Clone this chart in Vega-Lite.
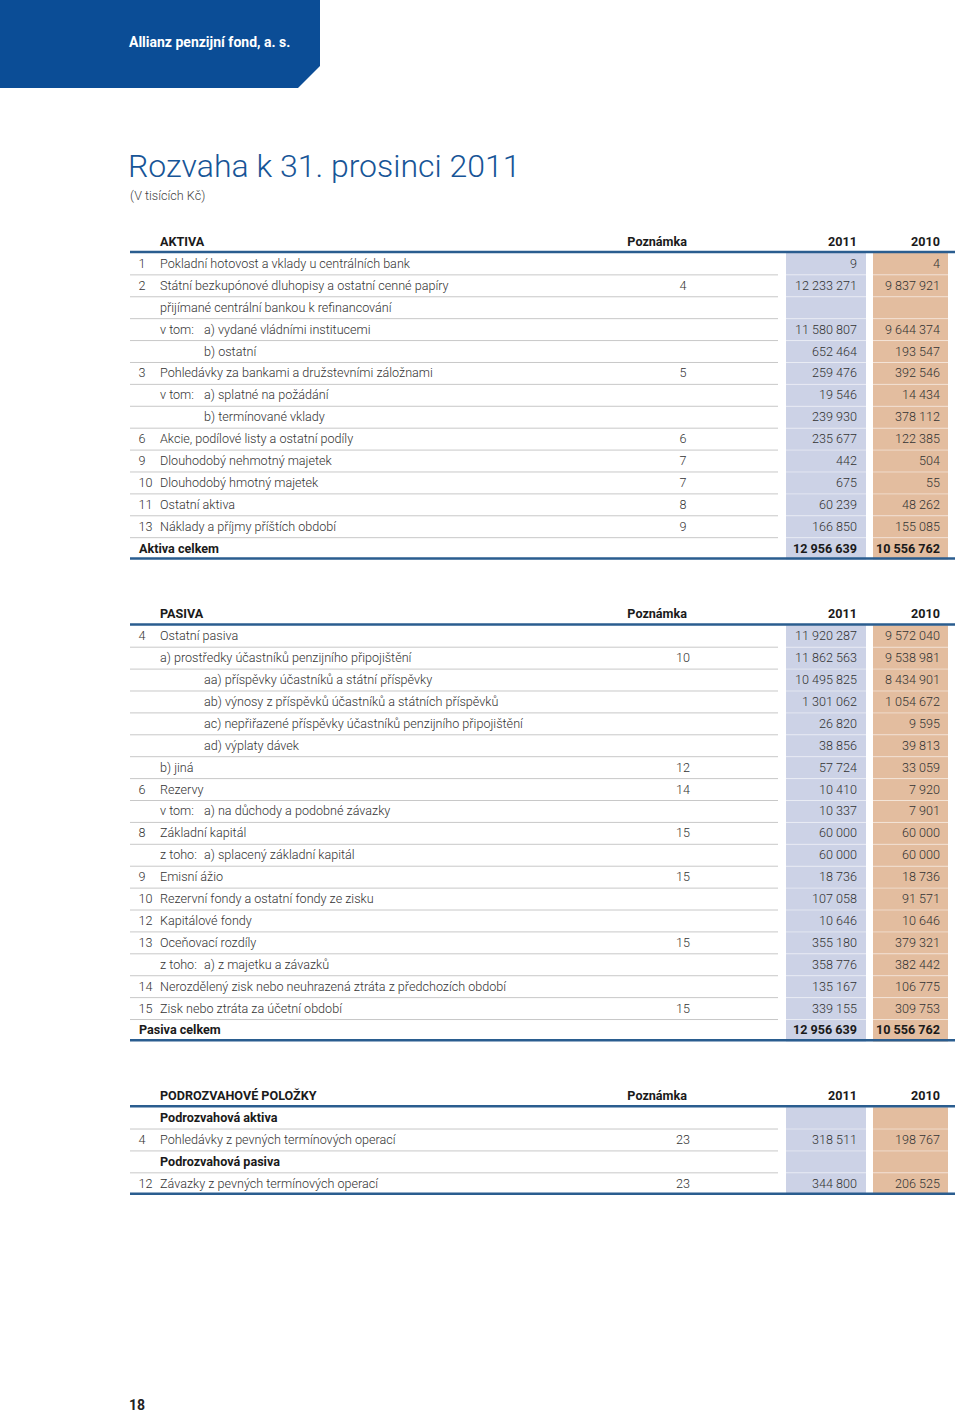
{
 "$schema": "https://vega.github.io/schema/vega-lite/v6.json",
 "width": 960, "height": 1412, "padding": 0, "autosize": {"type": "none"},
 "background": "white",
 "config": {
  "view": {"stroke": null},
  "locale": {"number": {"decimal": ",", "thousands": " ", "grouping": [3], "currency": ["", " Kč"]}},
  "text": {"font": "Roboto, sans-serif", "baseline": "middle", "fontSize": 12.6}
 },
 "datasets": {
  "rows": [
   {"r": 0, "sec": "A", "kind": "head", "label": "AKTIVA", "note": "Poznámka", "h11": "2011", "h10": "2010"},
   {"r": 1, "sec": "A", "kind": "item", "lvl": 0, "num": "1", "label": "Pokladní hotovost a vklady u centrálních bank", "v11": 9, "v10": 4},
   {"r": 2, "sec": "A", "kind": "item", "lvl": 0, "num": "2", "label": "Státní bezkupónové dluhopisy a ostatní cenné papíry", "note": "4", "v11": 12233271, "v10": 9837921},
   {"r": 3, "sec": "A", "kind": "item", "lvl": 0, "label": "přijímané centrální bankou k refinancování"},
   {"r": 4, "sec": "A", "kind": "item", "lvl": 1, "pre": "v tom:", "label": "a) vydané vládními institucemi", "v11": 11580807, "v10": 9644374},
   {"r": 5, "sec": "A", "kind": "item", "lvl": 1, "label": "b) ostatní", "v11": 652464, "v10": 193547},
   {"r": 6, "sec": "A", "kind": "item", "lvl": 0, "num": "3", "label": "Pohledávky za bankami a družstevními záložnami", "note": "5", "v11": 259476, "v10": 392546},
   {"r": 7, "sec": "A", "kind": "item", "lvl": 1, "pre": "v tom:", "label": "a) splatné na požádání", "v11": 19546, "v10": 14434},
   {"r": 8, "sec": "A", "kind": "item", "lvl": 1, "label": "b) termínované vklady", "v11": 239930, "v10": 378112},
   {"r": 9, "sec": "A", "kind": "item", "lvl": 0, "num": "6", "label": "Akcie, podílové listy a ostatní podíly", "note": "6", "v11": 235677, "v10": 122385},
   {"r": 10, "sec": "A", "kind": "item", "lvl": 0, "num": "9", "label": "Dlouhodobý nehmotný majetek", "note": "7", "v11": 442, "v10": 504},
   {"r": 11, "sec": "A", "kind": "item", "lvl": 0, "num": "10", "label": "Dlouhodobý hmotný majetek", "note": "7", "v11": 675, "v10": 55},
   {"r": 12, "sec": "A", "kind": "item", "lvl": 0, "num": "11", "label": "Ostatní aktiva", "note": "8", "v11": 60239, "v10": 48262},
   {"r": 13, "sec": "A", "kind": "item", "lvl": 0, "num": "13", "label": "Náklady a příjmy příštích období", "note": "9", "v11": 166850, "v10": 155085},
   {"r": 14, "sec": "A", "kind": "total", "label": "Aktiva celkem", "v11": 12956639, "v10": 10556762},
   {"r": 17, "sec": "P", "kind": "head", "label": "PASIVA", "note": "Poznámka", "h11": "2011", "h10": "2010"},
   {"r": 18, "sec": "P", "kind": "item", "lvl": 0, "num": "4", "label": "Ostatní pasiva", "v11": 11920287, "v10": 9572040},
   {"r": 19, "sec": "P", "kind": "item", "lvl": 0, "label": "a) prostředky účastníků penzijního připojištění", "note": "10", "v11": 11862563, "v10": 9538981},
   {"r": 20, "sec": "P", "kind": "item", "lvl": 1, "label": "aa) příspěvky účastníků a státní příspěvky", "v11": 10495825, "v10": 8434901},
   {"r": 21, "sec": "P", "kind": "item", "lvl": 1, "label": "ab) výnosy z příspěvků účastníků a státních příspěvků", "v11": 1301062, "v10": 1054672},
   {"r": 22, "sec": "P", "kind": "item", "lvl": 1, "label": "ac) nepřiřazené příspěvky účastníků penzijního připojištění", "v11": 26820, "v10": 9595},
   {"r": 23, "sec": "P", "kind": "item", "lvl": 1, "label": "ad) výplaty dávek", "v11": 38856, "v10": 39813},
   {"r": 24, "sec": "P", "kind": "item", "lvl": 0, "label": "b) jiná", "note": "12", "v11": 57724, "v10": 33059},
   {"r": 25, "sec": "P", "kind": "item", "lvl": 0, "num": "6", "label": "Rezervy", "note": "14", "v11": 10410, "v10": 7920},
   {"r": 26, "sec": "P", "kind": "item", "lvl": 1, "pre": "v tom:", "label": "a) na důchody a podobné závazky", "v11": 10337, "v10": 7901},
   {"r": 27, "sec": "P", "kind": "item", "lvl": 0, "num": "8", "label": "Základní kapitál", "note": "15", "v11": 60000, "v10": 60000},
   {"r": 28, "sec": "P", "kind": "item", "lvl": 1, "pre": "z toho:", "label": "a) splacený základní kapitál", "v11": 60000, "v10": 60000},
   {"r": 29, "sec": "P", "kind": "item", "lvl": 0, "num": "9", "label": "Emisní ážio", "note": "15", "v11": 18736, "v10": 18736},
   {"r": 30, "sec": "P", "kind": "item", "lvl": 0, "num": "10", "label": "Rezervní fondy a ostatní fondy ze zisku", "v11": 107058, "v10": 91571},
   {"r": 31, "sec": "P", "kind": "item", "lvl": 0, "num": "12", "label": "Kapitálové fondy", "v11": 10646, "v10": 10646},
   {"r": 32, "sec": "P", "kind": "item", "lvl": 0, "num": "13", "label": "Oceňovací rozdíly", "note": "15", "v11": 355180, "v10": 379321},
   {"r": 33, "sec": "P", "kind": "item", "lvl": 1, "pre": "z toho:", "label": "a) z majetku a závazků", "v11": 358776, "v10": 382442},
   {"r": 34, "sec": "P", "kind": "item", "lvl": 0, "num": "14", "label": "Nerozdělený zisk nebo neuhrazená ztráta z předchozích období", "v11": 135167, "v10": 106775},
   {"r": 35, "sec": "P", "kind": "item", "lvl": 0, "num": "15", "label": "Zisk nebo ztráta za účetní období", "note": "15", "v11": 339155, "v10": 309753},
   {"r": 36, "sec": "P", "kind": "total", "label": "Pasiva celkem", "v11": 12956639, "v10": 10556762},
   {"r": 39, "sec": "O", "kind": "head", "label": "PODROZVAHOVÉ POLOŽKY", "note": "Poznámka", "h11": "2011", "h10": "2010"},
   {"r": 40, "sec": "O", "kind": "sub", "label": "Podrozvahová aktiva"},
   {"r": 41, "sec": "O", "kind": "item", "lvl": 0, "num": "4", "label": "Pohledávky z pevných termínových operací", "note": "23", "v11": 318511, "v10": 198767},
   {"r": 42, "sec": "O", "kind": "sub", "label": "Podrozvahová pasiva"},
   {"r": 43, "sec": "O", "kind": "item", "lvl": 0, "num": "12", "label": "Závazky z pevných termínových operací", "note": "23", "v11": 344800, "v10": 206525}
  ]
 },
 "data": {"name": "rows"},
 "layer": [
  {"data": {"values": [{}]}, "mark": {"type": "rect", "color": "#0b4d96"},
   "encoding": {"x": {"datum": 0, "type": "quantitative", "scale": {"domain": [0, 960], "nice": false, "zero": false}, "axis": null}, "x2": {"datum": 320},
    "y": {"datum": -11.05, "type": "quantitative", "scale": {"domain": [-11.05, 53.42], "reverse": true, "nice": false, "zero": false}, "axis": null}, "y2": {"datum": -7.03}}},
  {"data": {"values": [{}]}, "mark": {"type": "point", "shape": "M 1 -1 L 1 1 L -1 1 Z", "filled": true, "color": "white", "opacity": 1, "size": 576, "strokeWidth": 0},
   "encoding": {"x": {"datum": 309.5, "type": "quantitative", "scale": {"domain": [0, 960], "nice": false, "zero": false}, "axis": null},
    "y": {"datum": -7.56, "type": "quantitative", "scale": {"domain": [-11.05, 53.42], "reverse": true, "nice": false, "zero": false}, "axis": null}}},
  {"data": {"values": [{}]}, "mark": {"type": "text", "text": "Allianz penzijní fond, a. s.", "align": "left", "fontWeight": "bold", "fontSize": 14, "color": "white"},
   "encoding": {"x": {"datum": 129, "type": "quantitative", "scale": {"domain": [0, 960], "nice": false, "zero": false}, "axis": null},
    "y": {"datum": -9.09, "type": "quantitative", "scale": {"domain": [-11.05, 53.42], "reverse": true, "nice": false, "zero": false}, "axis": null}}},
  {"data": {"values": [{}]}, "mark": {"type": "text", "text": "Rozvaha k 31. prosinci 2011", "align": "left", "fontSize": 32, "fontWeight": 300, "color": "#175597"},
   "encoding": {"x": {"datum": 128, "type": "quantitative", "scale": {"domain": [0, 960], "nice": false, "zero": false}, "axis": null},
    "y": {"datum": -3.43, "type": "quantitative", "scale": {"domain": [-11.05, 53.42], "reverse": true, "nice": false, "zero": false}, "axis": null}}},
  {"data": {"values": [{}]}, "mark": {"type": "text", "text": "(V tisících Kč)", "align": "left", "fontSize": 12.6, "fontWeight": 300, "color": "#444444"},
   "encoding": {"x": {"datum": 130, "type": "quantitative", "scale": {"domain": [0, 960], "nice": false, "zero": false}, "axis": null},
    "y": {"datum": -2.1, "type": "quantitative", "scale": {"domain": [-11.05, 53.42], "reverse": true, "nice": false, "zero": false}, "axis": null}}},
  {"data": {"values": [{}]}, "mark": {"type": "text", "text": "18", "align": "left", "fontWeight": "bold", "fontSize": 14, "color": "#222222"},
   "encoding": {"x": {"datum": 129, "type": "quantitative", "scale": {"domain": [0, 960], "nice": false, "zero": false}, "axis": null},
    "y": {"datum": 53.15, "type": "quantitative", "scale": {"domain": [-11.05, 53.42], "reverse": true, "nice": false, "zero": false}, "axis": null}}},
  {"transform": [{"filter": "datum.kind != 'head'"}, {"calculate": "datum.r - 0.5", "as": "t"}, {"calculate": "datum.r + 0.5", "as": "b"}],
   "mark": {"type": "rect", "color": "#ccd2e6"},
   "encoding": {"x": {"datum": 786, "type": "quantitative", "scale": {"domain": [0, 960], "nice": false, "zero": false}, "axis": null}, "x2": {"datum": 866},
    "y": {"field": "t", "type": "quantitative", "scale": {"domain": [-11.05, 53.42], "reverse": true, "nice": false, "zero": false}, "axis": null}, "y2": {"field": "b"}}},
  {"transform": [{"filter": "datum.kind != 'head'"}, {"calculate": "datum.r - 0.5", "as": "t"}, {"calculate": "datum.r + 0.5", "as": "b"}],
   "mark": {"type": "rect", "color": "#e3bd9f"},
   "encoding": {"x": {"datum": 873, "type": "quantitative", "scale": {"domain": [0, 960], "nice": false, "zero": false}, "axis": null}, "x2": {"datum": 948},
    "y": {"field": "t", "type": "quantitative", "scale": {"domain": [-11.05, 53.42], "reverse": true, "nice": false, "zero": false}, "axis": null}, "y2": {"field": "b"}}},
  {"transform": [{"joinaggregate": [{"op": "max", "field": "r", "as": "maxr"}], "groupby": ["sec"]}, {"filter": "datum.kind != 'head' && datum.r < datum.maxr"}, {"calculate": "datum.r + 0.5", "as": "sep"}],
   "mark": {"type": "rule", "color": "#c8c8c8", "strokeWidth": 1},
   "encoding": {"x": {"datum": 130, "type": "quantitative", "scale": {"domain": [0, 960], "nice": false, "zero": false}, "axis": null}, "x2": {"datum": 778},
    "y": {"field": "sep", "type": "quantitative", "scale": {"domain": [-11.05, 53.42], "reverse": true, "nice": false, "zero": false}, "axis": null}}},
  {"transform": [{"joinaggregate": [{"op": "max", "field": "r", "as": "maxr"}], "groupby": ["sec"]}, {"filter": "datum.kind != 'head' && datum.r < datum.maxr"}, {"calculate": "datum.r + 0.5", "as": "sep"}],
   "mark": {"type": "rule", "color": "white", "strokeWidth": 1, "opacity": 0.45},
   "encoding": {"x": {"datum": 786, "type": "quantitative", "scale": {"domain": [0, 960], "nice": false, "zero": false}, "axis": null}, "x2": {"datum": 948},
    "y": {"field": "sep", "type": "quantitative", "scale": {"domain": [-11.05, 53.42], "reverse": true, "nice": false, "zero": false}, "axis": null}}},
  {"transform": [{"joinaggregate": [{"op": "max", "field": "r", "as": "maxr"}], "groupby": ["sec"]}, {"filter": "datum.kind == 'head' || datum.r == datum.maxr"}, {"calculate": "datum.kind == 'head' ? datum.r + 0.46 : datum.r + 0.45", "as": "line"}],
   "mark": {"type": "rule", "color": "#2a5d8f", "strokeWidth": 2.5},
   "encoding": {"x": {"datum": 130, "type": "quantitative", "scale": {"domain": [0, 960], "nice": false, "zero": false}, "axis": null}, "x2": {"datum": 955},
    "y": {"field": "line", "type": "quantitative", "scale": {"domain": [-11.05, 53.42], "reverse": true, "nice": false, "zero": false}, "axis": null}}},
  {"transform": [{"filter": "isValid(datum.num)"}],
   "mark": {"type": "text", "align": "left", "fontWeight": 300, "color": "#333333"},
   "encoding": {"text": {"field": "num"}, "x": {"datum": 138.5, "type": "quantitative", "scale": {"domain": [0, 960], "nice": false, "zero": false}, "axis": null},
    "y": {"field": "r", "type": "quantitative", "scale": {"domain": [-11.05, 53.42], "reverse": true, "nice": false, "zero": false}, "axis": null}}},
  {"transform": [{"filter": "isValid(datum.pre)"}],
   "mark": {"type": "text", "align": "left", "fontWeight": 300, "color": "#333333"},
   "encoding": {"text": {"field": "pre"}, "x": {"datum": 160, "type": "quantitative", "scale": {"domain": [0, 960], "nice": false, "zero": false}, "axis": null},
    "y": {"field": "r", "type": "quantitative", "scale": {"domain": [-11.05, 53.42], "reverse": true, "nice": false, "zero": false}, "axis": null}}},
  {"transform": [{"filter": "datum.kind == 'item' && datum.lvl == 0"}],
   "mark": {"type": "text", "align": "left", "fontWeight": 300, "color": "#333333"},
   "encoding": {"text": {"field": "label"}, "x": {"datum": 160, "type": "quantitative", "scale": {"domain": [0, 960], "nice": false, "zero": false}, "axis": null},
    "y": {"field": "r", "type": "quantitative", "scale": {"domain": [-11.05, 53.42], "reverse": true, "nice": false, "zero": false}, "axis": null}}},
  {"transform": [{"filter": "datum.kind == 'item' && datum.lvl == 1"}],
   "mark": {"type": "text", "align": "left", "fontWeight": 300, "color": "#333333"},
   "encoding": {"text": {"field": "label"}, "x": {"datum": 204, "type": "quantitative", "scale": {"domain": [0, 960], "nice": false, "zero": false}, "axis": null},
    "y": {"field": "r", "type": "quantitative", "scale": {"domain": [-11.05, 53.42], "reverse": true, "nice": false, "zero": false}, "axis": null}}},
  {"transform": [{"filter": "datum.kind == 'item' && isValid(datum.note)"}],
   "mark": {"type": "text", "align": "center", "fontWeight": 300, "color": "#333333"},
   "encoding": {"text": {"field": "note"}, "x": {"datum": 683, "type": "quantitative", "scale": {"domain": [0, 960], "nice": false, "zero": false}, "axis": null},
    "y": {"field": "r", "type": "quantitative", "scale": {"domain": [-11.05, 53.42], "reverse": true, "nice": false, "zero": false}, "axis": null}}},
  {"transform": [{"filter": "datum.kind == 'item' && isValid(datum.v11)"}],
   "mark": {"type": "text", "align": "right", "fontWeight": 300, "color": "#333333"},
   "encoding": {"text": {"field": "v11", "type": "quantitative", "format": ",d"}, "x": {"datum": 857, "type": "quantitative", "scale": {"domain": [0, 960], "nice": false, "zero": false}, "axis": null},
    "y": {"field": "r", "type": "quantitative", "scale": {"domain": [-11.05, 53.42], "reverse": true, "nice": false, "zero": false}, "axis": null}}},
  {"transform": [{"filter": "datum.kind == 'item' && isValid(datum.v10)"}],
   "mark": {"type": "text", "align": "right", "fontWeight": 300, "color": "#333333"},
   "encoding": {"text": {"field": "v10", "type": "quantitative", "format": ",d"}, "x": {"datum": 940, "type": "quantitative", "scale": {"domain": [0, 960], "nice": false, "zero": false}, "axis": null},
    "y": {"field": "r", "type": "quantitative", "scale": {"domain": [-11.05, 53.42], "reverse": true, "nice": false, "zero": false}, "axis": null}}},
  {"transform": [{"filter": "datum.kind == 'head' || datum.kind == 'sub'"}],
   "mark": {"type": "text", "align": "left", "fontWeight": "bold", "color": "#1a1a1a"},
   "encoding": {"text": {"field": "label"}, "x": {"datum": 160, "type": "quantitative", "scale": {"domain": [0, 960], "nice": false, "zero": false}, "axis": null},
    "y": {"field": "r", "type": "quantitative", "scale": {"domain": [-11.05, 53.42], "reverse": true, "nice": false, "zero": false}, "axis": null}}},
  {"transform": [{"filter": "datum.kind == 'head'"}],
   "mark": {"type": "text", "align": "right", "fontWeight": "bold", "color": "#1a1a1a"},
   "encoding": {"text": {"field": "note"}, "x": {"datum": 687, "type": "quantitative", "scale": {"domain": [0, 960], "nice": false, "zero": false}, "axis": null},
    "y": {"field": "r", "type": "quantitative", "scale": {"domain": [-11.05, 53.42], "reverse": true, "nice": false, "zero": false}, "axis": null}}},
  {"transform": [{"filter": "datum.kind == 'head'"}],
   "mark": {"type": "text", "align": "right", "fontWeight": "bold", "color": "#1a1a1a"},
   "encoding": {"text": {"field": "h11"}, "x": {"datum": 857, "type": "quantitative", "scale": {"domain": [0, 960], "nice": false, "zero": false}, "axis": null},
    "y": {"field": "r", "type": "quantitative", "scale": {"domain": [-11.05, 53.42], "reverse": true, "nice": false, "zero": false}, "axis": null}}},
  {"transform": [{"filter": "datum.kind == 'head'"}],
   "mark": {"type": "text", "align": "right", "fontWeight": "bold", "color": "#1a1a1a"},
   "encoding": {"text": {"field": "h10"}, "x": {"datum": 940, "type": "quantitative", "scale": {"domain": [0, 960], "nice": false, "zero": false}, "axis": null},
    "y": {"field": "r", "type": "quantitative", "scale": {"domain": [-11.05, 53.42], "reverse": true, "nice": false, "zero": false}, "axis": null}}},
  {"transform": [{"filter": "datum.kind == 'total'"}],
   "mark": {"type": "text", "align": "left", "fontWeight": "bold", "color": "#1a1a1a"},
   "encoding": {"text": {"field": "label"}, "x": {"datum": 139, "type": "quantitative", "scale": {"domain": [0, 960], "nice": false, "zero": false}, "axis": null},
    "y": {"field": "r", "type": "quantitative", "scale": {"domain": [-11.05, 53.42], "reverse": true, "nice": false, "zero": false}, "axis": null}}},
  {"transform": [{"filter": "datum.kind == 'total'"}],
   "mark": {"type": "text", "align": "right", "fontWeight": "bold", "color": "#1a1a1a"},
   "encoding": {"text": {"field": "v11", "type": "quantitative", "format": ",d"}, "x": {"datum": 857, "type": "quantitative", "scale": {"domain": [0, 960], "nice": false, "zero": false}, "axis": null},
    "y": {"field": "r", "type": "quantitative", "scale": {"domain": [-11.05, 53.42], "reverse": true, "nice": false, "zero": false}, "axis": null}}},
  {"transform": [{"filter": "datum.kind == 'total'"}],
   "mark": {"type": "text", "align": "right", "fontWeight": "bold", "color": "#1a1a1a"},
   "encoding": {"text": {"field": "v10", "type": "quantitative", "format": ",d"}, "x": {"datum": 940, "type": "quantitative", "scale": {"domain": [0, 960], "nice": false, "zero": false}, "axis": null},
    "y": {"field": "r", "type": "quantitative", "scale": {"domain": [-11.05, 53.42], "reverse": true, "nice": false, "zero": false}, "axis": null}}}
 ]
}
